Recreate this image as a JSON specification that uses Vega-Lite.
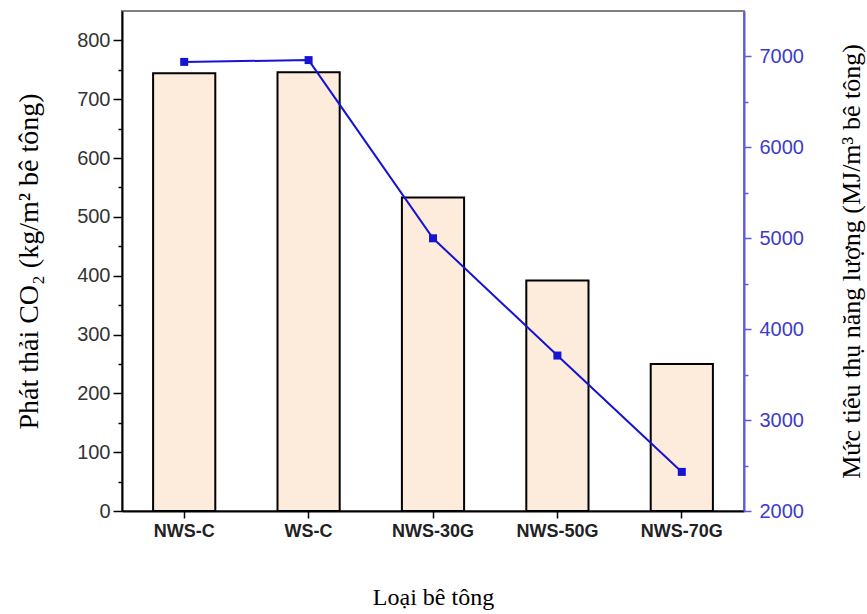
{
  "$schema": "https://vega.github.io/schema/vega-lite/v6.json",
  "width": 622,
  "height": 500,
  "autosize": "none",
  "padding": {"left": 122, "top": 11, "right": 123, "bottom": 103},
  "background": "white",
  "config": {
    "view": {"stroke": "#808080", "strokeWidth": 2},
    "axis": {"grid": false, "labelFont": "Liberation Sans", "titleFont": "Liberation Serif", "titleFontWeight": "normal", "titleFontSize": 24, "titleColor": "black", "labelFontSize": 20}
  },
  "data": {
    "values": [
      {"type": "NWS-C", "co2": 744, "energy": 6940},
      {"type": "WS-C", "co2": 746, "energy": 6960},
      {"type": "NWS-30G", "co2": 533, "energy": 5000},
      {"type": "NWS-50G", "co2": 392, "energy": 3710},
      {"type": "NWS-70G", "co2": 250, "energy": 2430}
    ]
  },
  "encoding": {
    "x": {
      "field": "type",
      "type": "nominal",
      "sort": null,
      "scale": {"paddingInner": 0.5, "paddingOuter": 0.25},
      "axis": {
        "title": "Loại bê tông",
        "titlePadding": 45,
        "labelAngle": 0,
        "labelFontWeight": "bold",
        "labelFontSize": 18,
        "labelColor": "#222222",
        "labelPadding": 4,
        "domainColor": "black",
        "domainWidth": 2,
        "tickColor": "black",
        "tickWidth": 1.5,
        "tickSize": 7
      }
    }
  },
  "layer": [
    {
      "mark": {"type": "bar", "fill": "#fdebdc", "stroke": "black", "strokeWidth": 2},
      "encoding": {
        "y": {
          "field": "co2",
          "type": "quantitative",
          "scale": {"domain": [0, 850], "nice": false},
          "axis": {
            "title": "Phát thải CO₂ (kg/m² bê tông)",
            "titleFontSize": 28,
            "titlePadding": 33,
            "values": [0, 50, 100, 150, 200, 250, 300, 350, 400, 450, 500, 550, 600, 650, 700, 750, 800],
            "labelExpr": "datum.value % 100 === 0 ? datum.label : ''",
            "tickSize": {"condition": {"test": "datum.value % 100 !== 0", "value": 4}, "value": 9},
            "labelColor": "#333333",
            "labelPadding": 3,
            "domainColor": "black",
            "domainWidth": 2,
            "tickColor": "black",
            "tickWidth": 1.5
          }
        }
      }
    },
    {
      "mark": {"type": "line", "color": "#1414d2", "strokeWidth": 2, "point": {"shape": "square", "size": 64, "filled": true, "color": "#1414d2", "opacity": 1}},
      "encoding": {
        "y": {
          "field": "energy",
          "type": "quantitative",
          "scale": {"domain": [2000, 7500], "nice": false, "zero": false},
          "axis": {
            "orient": "right",
            "title": "Mức tiêu thụ năng lượng (MJ/m³ bê tông)",
            "titleFontSize": 26,
            "titleAngle": 270,
            "titleBaseline": "top",
            "titlePadding": 35,
            "values": [2000, 2500, 3000, 3500, 4000, 4500, 5000, 5500, 6000, 6500, 7000],
            "labelExpr": "datum.value % 1000 === 0 ? datum.label : ''",
            "format": "d",
            "tickSize": {"condition": {"test": "datum.value % 1000 !== 0", "value": 4}, "value": 7},
            "labelColor": "#3c3cc8",
            "labelPadding": 8,
            "domainColor": "#5a5ae6",
            "domainWidth": 2,
            "tickColor": "#5a5ae6",
            "tickWidth": 1.5
          }
        }
      }
    }
  ],
  "resolve": {"scale": {"y": "independent"}}
}
